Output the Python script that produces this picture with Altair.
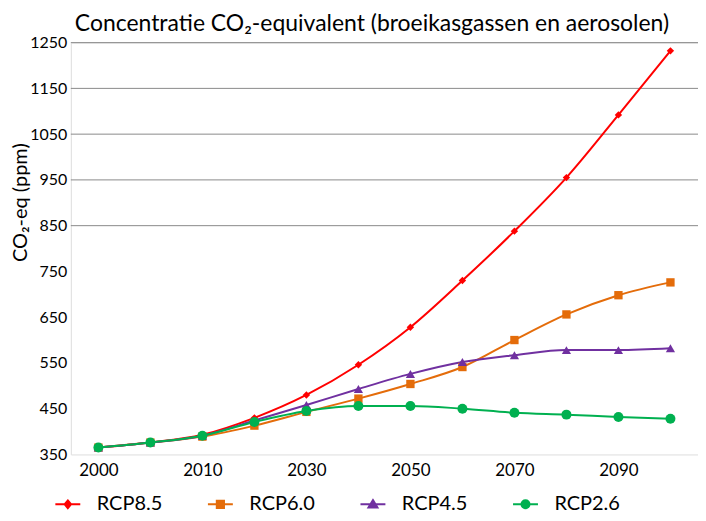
import altair as alt
import pandas as pd

# ---- data ----
years = [2000, 2005, 2010, 2020, 2030, 2040, 2050, 2060, 2070, 2080, 2090, 2100]
series = ["RCP8.5", "RCP6.0", "RCP4.5", "RCP2.6"]
rcp85 = [365, 376, 393, 430, 480, 546, 628, 730, 838, 955, 1092, 1232]
rcp60 = [365, 376, 389, 413, 443, 472, 504, 541, 600, 656, 698, 726]
rcp45 = [365, 376, 391, 424, 458, 493, 526, 552, 567, 578, 578, 582]
rcp26 = [365, 376, 391, 421, 445, 456, 456, 450, 441, 437, 432, 428]
y_ticks = [350, 450, 550, 650, 750, 850, 950, 1050, 1150, 1250]
grid_values = [850, 950, 1050, 1150, 1250]
x_label_years = [2000, 2010, 2030, 2050, 2070, 2090]

# ---- styles ----
colors = ["#FF0000", "#E46C0A", "#7030A0", "#00B050"]
shapes = ["diamond", "square", "triangle-up", "circle"]
sizes = [55, 100, 95, 90]
legend_paths = [
    "M-1.25,0H1.25M0,-0.38L0.32,0L0,0.38L-0.32,0Z",
    "M-1.25,0H1.25M-0.36,-0.36H0.36V0.36H-0.36Z",
    "M-1.25,0H1.25M0,-0.42L0.45,0.32H-0.45Z",
    "M-1.25,0H1.25M-0.4,0A0.4,0.4 0 1,0 0.4,0A0.4,0.4 0 1,0 -0.4,0Z",
]
FONT = "Lato"

rows = []
for name, vals in zip(series, [rcp85, rcp60, rcp45, rcp26]):
    for yr, v in zip(years, vals):
        rows.append({"year": yr, "value": v, "series": name})
df = pd.DataFrame(rows)
grid_df = pd.DataFrame({"value": grid_values})

x_enc = alt.X(
    "year:O",
    scale=alt.Scale(type="point", padding=0.53),
    axis=alt.Axis(
        values=x_label_years, labelAngle=0, ticks=False, domain=False, grid=False,
        labelPadding=8, labelFont=FONT, labelFontSize=17, labelColor="black", title=None,
    ),
)
y_axis = alt.Axis(
    values=y_ticks, format="d", ticks=False, domain=False, grid=False, labelPadding=4,
    labelFont=FONT, labelFontSize=16, labelColor="black",
    title="CO₂-eq (ppm)", titleFont=FONT, titleFontSize=20, titleFontWeight="normal",
    titleColor="black", titleX=-50, titleY=160, titleBaseline="middle",
)
y_enc = alt.Y("value:Q", scale=alt.Scale(domain=[350, 1250], nice=False, zero=False), axis=y_axis)

grid = alt.Chart(grid_df).mark_rule(color="#8A8A8A", strokeWidth=1).encode(y=y_enc)

lines = alt.Chart(df).mark_line(interpolate="monotone", strokeWidth=2).encode(
    x=x_enc,
    y=y_enc,
    color=alt.Color("series:N", scale=alt.Scale(domain=series, range=colors), legend=None),
    detail="series:N",
)

points = alt.Chart(df).mark_point(filled=True, opacity=1).encode(
    x=x_enc,
    y=y_enc,
    color=alt.Color("series:N", scale=alt.Scale(domain=series, range=colors), legend=None),
    shape=alt.Shape("series:N", scale=alt.Scale(domain=series, range=shapes), legend=None),
    size=alt.Size("series:N", scale=alt.Scale(domain=series, range=sizes), legend=None),
)

legend_props = dict(
    title=None, orient="none", legendX=-14, legendY=452, direction="horizontal",
    columns=4, columnPadding=41, symbolSize=400, labelOffset=18, symbolStrokeWidth=2,
    labelFont=FONT, labelFontSize=20, labelColor="black", padding=0, symbolOpacity=1,
)

# legend-only layer: no rows drawn, scales with explicit domains
legend_layer = alt.Chart(df).transform_filter("datum.value < 0").mark_point(opacity=1).encode(
    x=x_enc,
    y=y_enc,
    shape=alt.Shape("series:N", scale=alt.Scale(domain=series, range=legend_paths),
                    legend=alt.Legend(**legend_props)),
    fill=alt.Fill("series:N", scale=alt.Scale(domain=series, range=colors),
                  legend=alt.Legend(**legend_props)),
    stroke=alt.Stroke("series:N", scale=alt.Scale(domain=series, range=colors),
                      legend=alt.Legend(**legend_props)),
)

chart = alt.layer(grid, lines, points, legend_layer).resolve_scale(
    shape="independent", fill="independent", stroke="independent"
).properties(
    width=629,
    height=413,
    title=alt.TitleParams(
        "Concentratie CO₂-equivalent (broeikasgassen en aerosolen)",
        anchor="start", frame="group", dx=4, font=FONT, fontSize=23,
        fontWeight="normal", color="black", offset=-19, baseline="alphabetic",
    ),
    autosize=alt.AutoSizeParams(type="none"),
    padding={"left": 63, "top": 34, "right": 0, "bottom": 58},
).configure_view(stroke=None).configure(background="white")

chart.save("out.html", embed_options={"renderer": "svg", "actions": False})
